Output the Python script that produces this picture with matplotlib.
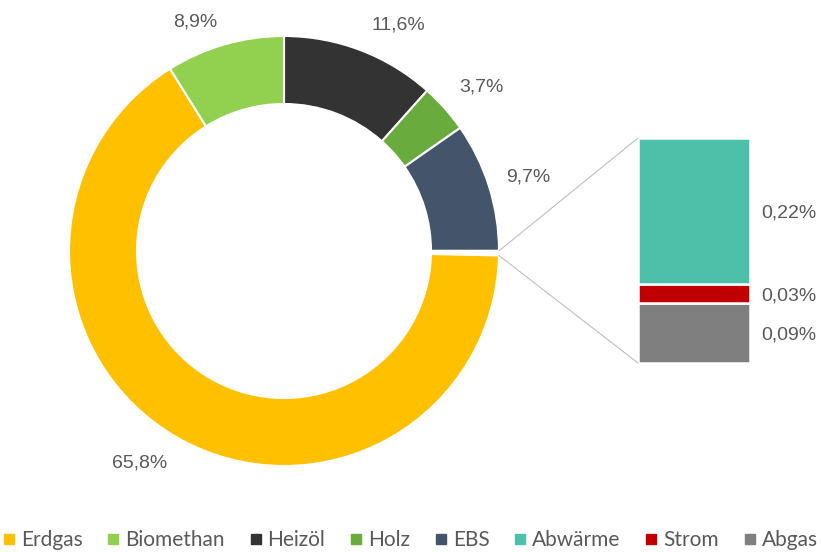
import matplotlib
matplotlib.use("Agg")
import matplotlib.pyplot as plt
from matplotlib.lines import Line2D
from matplotlib.patches import ConnectionPatch
import numpy as np

# ---- data ----
pie_labels = ["Heizöl", "Holz", "EBS", "Sonstige", "Erdgas", "Biomethan"]
pie_values = [11.6, 3.7, 9.7, 0.34, 65.8, 8.9]
pie_texts = ["11,6%", "3,7%", "9,7%", "", "65,8%", "8,9%"]

bar_labels = ["Abgas", "Strom", "Abwärme"]
bar_values = [0.09, 0.03, 0.22]
bar_texts = ["0,09%", "0,03%", "0,22%"]

legend_names = ["Erdgas", "Biomethan", "Heizöl", "Holz", "EBS", "Abwärme", "Strom", "Abgas"]

colors = {
    "Erdgas": "#FFC000",
    "Biomethan": "#92D050",
    "Heizöl": "#333333",
    "Holz": "#6AAB3E",
    "EBS": "#44546A",
    "Abwärme": "#4EBFA9",
    "Strom": "#C00000",
    "Abgas": "#7F7F7F",
    "Sonstige": "#FFFFFF",
}

# layout: label centres in pixels (from top-left)
pie_label_pos = {"11,6%": (398, 25), "3,7%": (481, 87), "9,7%": (528, 177),
                 "65,8%": (140, 463), "8,9%": (195, 22)}

TXT = "#595959"
LBL_FONT = ["Liberation Sans", "DejaVu Sans"]
W, H = 821, 552
fig = plt.figure(figsize=(W / 100, H / 100), dpi=100)
ax = fig.add_axes([0, 0, 1, 1])

cx, cy, R = 284, H - 251, 215
wedges, _ = ax.pie(
    pie_values,
    colors=[colors[n] for n in pie_labels],
    startangle=90,
    counterclock=False,
    center=(cx, cy),
    radius=R,
    wedgeprops=dict(width=68, edgecolor="white", linewidth=1.5),
    frame=True,
)
ax.set_xlim(0, W)
ax.set_ylim(0, H)
ax.set_aspect("equal")
ax.axis("off")

for t in pie_texts:
    if not t:
        continue
    px, py = pie_label_pos[t]
    ax.text(px, H - py, t, ha="center", va="center", fontsize=14, color=TXT, family=LBL_FONT)

# ---- stacked bar ----
bx0, by0, bx1, by1 = 638, 138, 750, 363
bax = fig.add_axes([bx0 / W, (H - by1) / H, (bx1 - bx0) / W, (by1 - by0) / H])
bottom = 0
for name, v, t in zip(bar_labels, bar_values, bar_texts):
    bax.bar(0, v, bottom=bottom, width=1.0, color=colors[name], edgecolor="white", linewidth=1.8)
    bax.text(0.85, bottom + v / 2, t, ha="center", va="center_baseline", fontsize=14, color=TXT,
             family=LBL_FONT, clip_on=False)
    bottom += v
bax.set_xlim(-0.5, 0.5)
bax.set_ylim(0, sum(bar_values))
bax.axis("off")

# connector lines
other = wedges[3]
for ang, yb in [(other.theta2, sum(bar_values)), (other.theta1, 0)]:
    a = np.deg2rad(ang)
    p = (cx + R * np.cos(a), cy + R * np.sin(a))
    con = ConnectionPatch(xyA=p, coordsA=ax.transData, xyB=(-0.5, yb), coordsB=bax.transData,
                          color="#BFBFBF", linewidth=0.8)
    fig.add_artist(con)

# ---- legend ----
handles = [Line2D([], [], marker="s", linestyle="none", markersize=7.5,
                  markerfacecolor=colors[n], markeredgecolor=colors[n]) for n in legend_names]
leg = fig.legend(handles, legend_names, loc="center", bbox_to_anchor=(0.5, (H - 540) / H),
                 ncol=8, frameon=False, handlelength=0.55, handletextpad=0.3,
                 columnspacing=1.2, borderaxespad=0,
                 prop=dict(family=["Lato", "DejaVu Sans"], size=15))
for t in leg.get_texts():
    t.set_color(TXT)

fig.savefig("out.png", dpi=100, facecolor="white")
